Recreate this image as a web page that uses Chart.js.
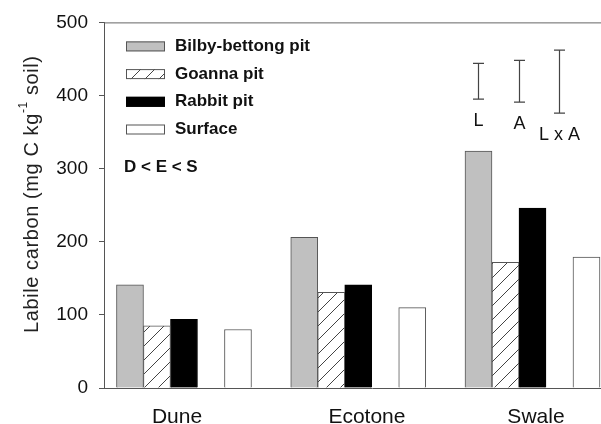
<!DOCTYPE html>
<html>
<head>
<meta charset="utf-8">
<script src="https://cdn.jsdelivr.net/npm/chart.js@4.4.0/dist/chart.umd.min.js"></script>
<style>
  html, body { margin: 0; padding: 0; background: #fff; overflow: hidden; }
  #wrap { width: 601px; height: 424px; overflow: hidden; }
</style>
</head>
<body>
<div id="wrap"><canvas id="chart" width="640" height="424"></canvas></div>
<script>
const sites = ["Dune", "Ecotone", "Swale"];
const bilby = [141, 206, 324];
const goanna = [85, 131, 172];
const rabbit = [94, 141, 246];
const surface = [80, 110, 179];
const yTicks = [0, 100, 200, 300, 400, 500];
// LSD bars (L = landform, A = animal pit type)
const lsdNames = ["L", "A", "L x A"];
const lsdLow = [395, 391, 376];
const lsdHigh = [444, 448, 462];
const lsdAt = [1.69, 1.92, 2.15];
const labelAt = [-0.04, 1.05, 2.02];

const FONT = "'Liberation Sans', Arial, sans-serif";
const ctx = document.getElementById("chart").getContext("2d");

function hatch() {
  const p = document.createElement("canvas");
  p.width = 14; p.height = 14;
  const g = p.getContext("2d");
  g.fillStyle = "#fff";
  g.fillRect(0, 0, 14, 14);
  g.strokeStyle = "#444";
  g.lineWidth = 1;
  g.beginPath();
  g.moveTo(0, 14); g.lineTo(14, 0);
  g.moveTo(-2, 2); g.lineTo(2, -2);
  g.moveTo(12, 16); g.lineTo(16, 12);
  g.stroke();
  return ctx.createPattern(p, "repeat");
}

const pts = vals => vals.map((v, i) => ({ x: i, y: v }));

const extras = {
  id: "extras",
  afterDraw(c) {
    const { ctx: g, chartArea: a, scales: { x, y } } = c;
    g.save();
    // top frame line
    g.strokeStyle = "#666";
    g.lineWidth = 1;
    g.beginPath();
    g.moveTo(a.left, a.top + 0.5);
    g.lineTo(a.right, a.top + 0.5);
    g.stroke();

    // legend
    const items = c.data.datasets.filter(d => d.label);
    items.forEach((d, i) => {
      const cy = a.top + 24 + i * 27.7;
      g.fillStyle = d.backgroundColor;
      g.fillRect(a.left + 22, cy - 5, 39, 10);
      g.strokeStyle = d.borderColor;
      g.strokeRect(a.left + 22.5, cy - 4.5, 38, 9);
      g.fillStyle = "#111";
      g.font = "bold 17px " + FONT;
      g.textBaseline = "middle";
      g.textAlign = "left";
      g.fillText(d.label, a.left + 71, cy);
    });
    g.fillText("D < E < S", a.left + 20, a.top + 145);

    // LSD bars
    g.strokeStyle = "#444";
    g.lineWidth = 1.2;
    g.font = "18px " + FONT;
    g.textAlign = "center";
    lsdNames.forEach((n, i) => {
      const px = Math.round(x.getPixelForValue(lsdAt[i])) + 0.5;
      const t = y.getPixelForValue(lsdHigh[i]);
      const b = y.getPixelForValue(lsdLow[i]);
      g.beginPath();
      g.moveTo(px, t); g.lineTo(px, b);
      g.moveTo(px - 5.5, t); g.lineTo(px + 5.5, t);
      g.moveTo(px - 5.5, b); g.lineTo(px + 5.5, b);
      g.stroke();
      g.fillStyle = "#111";
      g.fillText(n, px, b + 22);
    });

    // y axis title with superscript
    g.translate(32, (a.top + a.bottom) / 2 - 11);
    g.rotate(-Math.PI / 2);
    g.fillStyle = "#222";
    g.textBaseline = "middle";
    g.textAlign = "left";
    g.letterSpacing = "0.6px";
    const parts = ["Labile carbon (mg C kg", "-1", " soil)"];
    g.font = "20px " + FONT;
    const w0 = g.measureText(parts[0]).width;
    const w2 = g.measureText(parts[2]).width;
    g.font = "12px " + FONT;
    const w1 = g.measureText(parts[1]).width;
    const start = -(w0 + w1 + w2) / 2;
    g.font = "20px " + FONT;
    g.fillText(parts[0], start, 0);
    g.font = "12px " + FONT;
    g.fillText(parts[1], start + w0, -8);
    g.font = "20px " + FONT;
    g.fillText(parts[2], start + w0 + w1, 0);
    g.restore();
  }
};

new Chart(ctx, {
  type: "bar",
  data: {
    datasets: [
      { label: "Bilby-bettong pit", data: pts(bilby), backgroundColor: "#c0c0c0", borderColor: "#555" },
      { label: "Goanna pit", data: pts(goanna), backgroundColor: hatch(), borderColor: "#555" },
      { label: "Rabbit pit", data: pts(rabbit), backgroundColor: "#000", borderColor: "#000" },
      { label: "", data: sites.map((s, i) => ({ x: i, y: null })), backgroundColor: "rgba(0,0,0,0)", borderWidth: 0 },
      { label: "Surface", data: pts(surface), backgroundColor: "#fff", borderColor: "#555" }
    ]
  },
  options: {
    responsive: false,
    animation: false,
    barThickness: 27,
    borderWidth: 1,
    layout: { padding: { top: 21, left: 0, right: 0, bottom: 0 } },
    plugins: { legend: { display: false }, tooltip: { enabled: false } },
    scales: {
      x: {
        type: "linear",
        offset: false,
        min: -0.459,
        max: 2.617,
        afterBuildTicks: s => { s.ticks = labelAt.map(v => ({ value: v })); },
        afterFit: s => { s.height = 36; },
        grid: { display: true, drawOnChartArea: false, drawTicks: false },
        border: { color: "#555", width: 1 },
        ticks: {
          callback: (v, i) => sites[i],
          color: "#111",
          padding: 17,
          maxRotation: 0,
          autoSkip: false,
          font: { family: FONT, size: 21 }
        }
      },
      y: {
        min: 0,
        max: 500,
        afterBuildTicks: s => { s.ticks = yTicks.map(v => ({ value: v })); },
        afterFit: s => { s.width = 104; },
        grid: { drawOnChartArea: false, drawTicks: true, tickLength: 5, color: "#555" },
        border: { color: "#555", width: 1 },
        ticks: { color: "#111", padding: 11, font: { family: FONT, size: 19 } }
      }
    }
  },
  plugins: [extras]
});
</script>
</body>
</html>
